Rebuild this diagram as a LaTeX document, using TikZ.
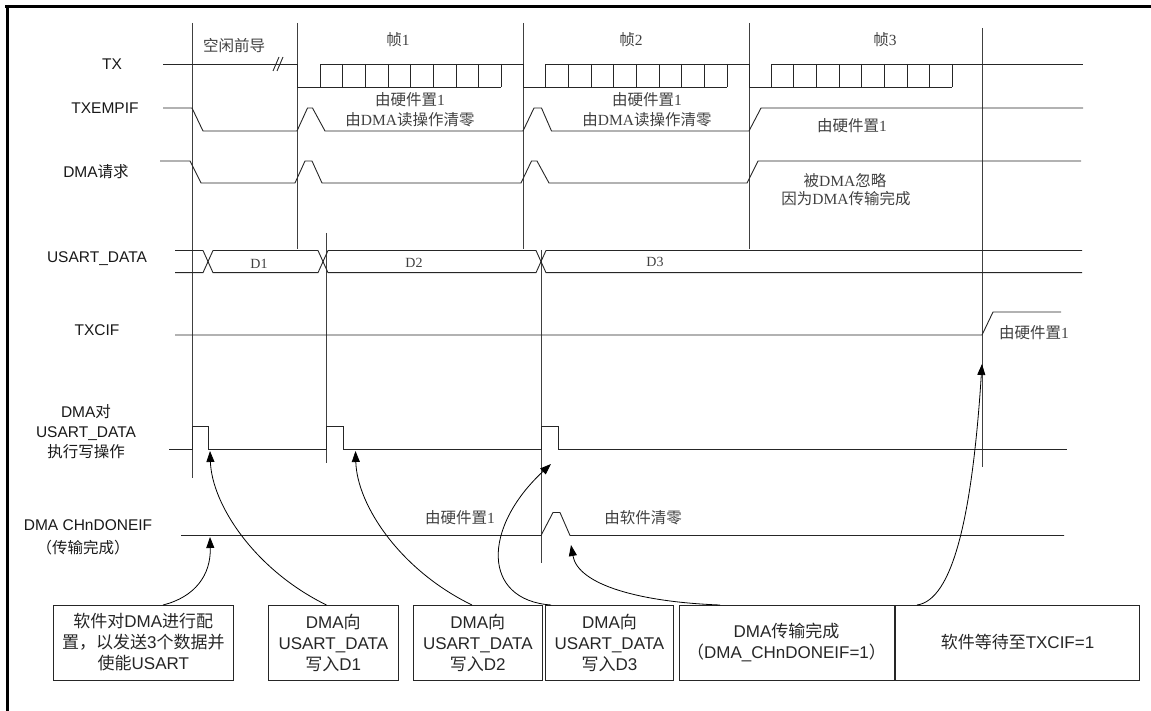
\documentclass[tikz,border=0pt]{standalone}
\usepackage{fontspec}
\setmainfont{Liberation Sans}
\newfontfamily\cjk{Noto Sans CJK SC}
\newfontfamily\srf{Liberation Serif}
\usetikzlibrary{arrows.meta}
\begin{document}
\begin{tikzpicture}[x=1pt,y=-1pt,
  sig/.style={line width=0.9pt, draw=black!85, line join=miter},
  vl/.style={line width=0.9pt, draw=black!75},
  lbl/.style={font=\fontsize{15.5}{20}\selectfont, align=center, inner sep=0, text=black!90},
  ann/.style={font=\srf\fontsize{15.5}{20}\selectfont, align=center, inner sep=0, text=black!75},
  boxn/.style={draw=black!85, line width=1pt, minimum height=75pt, inner sep=0, align=center, font=\fontsize{17}{21}\selectfont, text=black!85},
  arr/.style={-{Triangle[length=11pt,width=8pt]}, line width=0.8pt, draw=black}]
\useasboundingbox (0,0) rectangle (1151,711);
% frame border
\draw[line width=3pt] (5,6.5) -- (1151,6.5);
\draw[line width=3pt] (7.5,5) -- (7.5,711);

% vertical markers
\draw[vl] (192,23) -- (192,478);
\draw[vl] (297,23) -- (297,249);
\draw[vl] (326,233) -- (326,463);
\draw[vl] (523,23) -- (523,249);
\draw[vl] (541,250) -- (541,563);
\draw[vl] (749,23) -- (749,249);
\draw[vl] (982,28) -- (982,467);

% frame labels
\node[ann] (f0) at (234,46) {{\cjk 空闲前导}};
\node[ann] (f1) at (398,40) {{\cjk 帧}1};
\node[ann] (f2) at (631,40) {{\cjk 帧}2};
\node[ann] (f3) at (885,40) {{\cjk 帧}3};

% left labels
\node[lbl] (lTX) at (112,64) {TX};
\node[lbl] (lTXE) at (105,108) {TXEMPIF};
\node[lbl] (lREQ) at (96,172) {DMA{\cjk 请求}};
\node[lbl] (lDATA) at (97,259) {USART\_DATA};
\node[lbl] (lTXC) at (97,330) {TXCIF};
\node[lbl] (lWR) at (86,432) {DMA{\cjk 对}\\USART\_DATA\\{\cjk 执行写操作}};
\node[lbl] (lDONE) at (88,525) {DMA CHnDONEIF};
\node[lbl] (lDONE2) at (83,548) {{\cjk （传输完成）}};

% TX
\draw[sig] (163,64) -- (297,64) -- (297,87) -- (501.3,87);
\draw[sig] (320,87) -- (320,64) -- (523,64) -- (523,87) -- (726.7,87);
\draw[sig] (545.7,87) -- (545.7,64) -- (749,64) -- (749,87) -- (951.7,87);
\draw[sig] (771,87) -- (771,64) -- (1083,64);
\foreach \o in {320,545.7,771}{
  \foreach \k in {1,...,8}{
    \draw[sig] ({\o+\k*22.67},64) -- ({\o+\k*22.67},87);
  }
}
\draw[sig] (273,71) -- (279,57);
\draw[sig] (277,71) -- (283,57);

% TXEMPIF
\draw[sig] (163,108) -- (192,108) -- (203,131) -- (297,131) -- (307.5,108) -- (312.5,108) -- (325,131) -- (523,131) -- (534,108) -- (541.5,108) -- (551.5,131) -- (749,131) -- (761,108) -- (1083,108);
\node[ann] (e1a) at (410,100) {{\cjk 由硬件置}1};
\node[ann] (e1b) at (410,120) {{\cjk 由}DMA{\cjk 读操作清零}};
\node[ann] (e2a) at (647,100) {{\cjk 由硬件置}1};
\node[ann] (e2b) at (647,120) {{\cjk 由}DMA{\cjk 读操作清零}};
\node[ann] (e3a) at (852,126) {{\cjk 由硬件置}1};

% DMA request
\draw[sig] (160,161) -- (190,161) -- (201,183) -- (295,183) -- (305,161) -- (312,161) -- (322,183) -- (521,183) -- (531.5,161) -- (537,161) -- (549,183) -- (747,183) -- (758,161) -- (1081,161);
\node[ann] (r3a) at (845,181) {{\cjk 被}DMA{\cjk 忽略}};
\node[ann] (r3b) at (846,199) {{\cjk 因为}DMA{\cjk 传输完成}};

% USART_DATA
\draw[sig] (175,250.5) -- (203,250.5) -- (213,272.7) -- (318,272.7) -- (328,250.5) -- (536,250.5) -- (546,272.7) -- (1082,272.7);
\draw[sig] (175,272.7) -- (203,272.7) -- (213,250.5) -- (318,250.5) -- (328,272.7) -- (536,272.7) -- (546,250.5) -- (1082,250.5);
\node[ann,font=\srf\fontsize{14}{16}\selectfont] (d1) at (259,264) {D1};
\node[ann,font=\srf\fontsize{14}{16}\selectfont] (d2) at (414,263) {D2};
\node[ann,font=\srf\fontsize{14}{16}\selectfont] (d3) at (655,262) {D3};

% TXCIF
\draw[sig] (175,335) -- (982,335) -- (993,312) -- (1061,312);
\node[ann] (c1) at (1034,333) {{\cjk 由硬件置}1};

% DMA write
\draw[sig] (169,449) -- (192,449) -- (192,426) -- (208.7,426) -- (208.7,449) -- (326,449) -- (326,426) -- (343.3,426) -- (343.3,449) -- (541,449) -- (541,426) -- (558.7,426) -- (558.7,449) -- (1067,449);

% DMA CHnDONEIF
\draw[sig] (181,535.5) -- (541,535.5) -- (553,512.5) -- (560,512.5) -- (570,535.5) -- (1064,535.5);
\node[ann] (n1) at (460,518) {{\cjk 由硬件置}1};
\node[ann] (n2) at (643,518) {{\cjk 由软件清零}};

% boxes
\node[boxn, minimum width=180pt] (b1) at (143.3,642.5) {{\cjk 软件对}DMA{\cjk 进行配}\\{\cjk 置，以发送}3{\cjk 个数据并}\\{\cjk 使能}USART};
\node[boxn, minimum width=130pt] (b2) at (333.3,642.5) {DMA{\cjk 向}\\USART\_DATA\\{\cjk 写入}D1};
\node[boxn, minimum width=129pt] (b3) at (477.8,642.5) {DMA{\cjk 向}\\USART\_DATA\\{\cjk 写入}D2};
\node[boxn, minimum width=127.6pt] (b4) at (609.5,642.5) {DMA{\cjk 向}\\USART\_DATA\\{\cjk 写入}D3};
\node[boxn, minimum width=215pt] (b5) at (786.5,642.5) {DMA{\cjk 传输完成}\\{\cjk （}DMA\_CHnDONEIF=1{\cjk ）}};
\node[boxn, minimum width=243.6pt] (b6) at (1017.5,642.5) {{\cjk 软件等待至}TXCIF=1};

% arrow endpoints
\coordinate (s1) at (163,605);
\coordinate (t1) at (210,537);
\coordinate (s2) at (326.5,605);
\coordinate (t2) at (210,451);
\coordinate (s3) at (472,605);
\coordinate (t3) at (355.5,451);
\coordinate (s4) at (551,605);
\coordinate (t4) at (551,464);
\coordinate (s5) at (720,605);
\coordinate (t5) at (571,545);
\coordinate (s6) at (917,605);
\coordinate (t6) at (982,364);

\draw[arr] (s1) .. controls (195,597) and (211,575) .. (t1);
\draw[arr] (s2) .. controls (255,570) and (212,505) .. (t2);
\draw[arr] (s3) .. controls (400,570) and (357,505) .. (t3);
\draw[arr] (s4) .. controls (482,600) and (482,528) .. (t4);
\draw[arr] (s5) .. controls (640,602) and (578,585) .. (t5);
\draw[arr] (s6) .. controls (952,600) and (972,520) .. (t6);
\end{tikzpicture}
\end{document}
